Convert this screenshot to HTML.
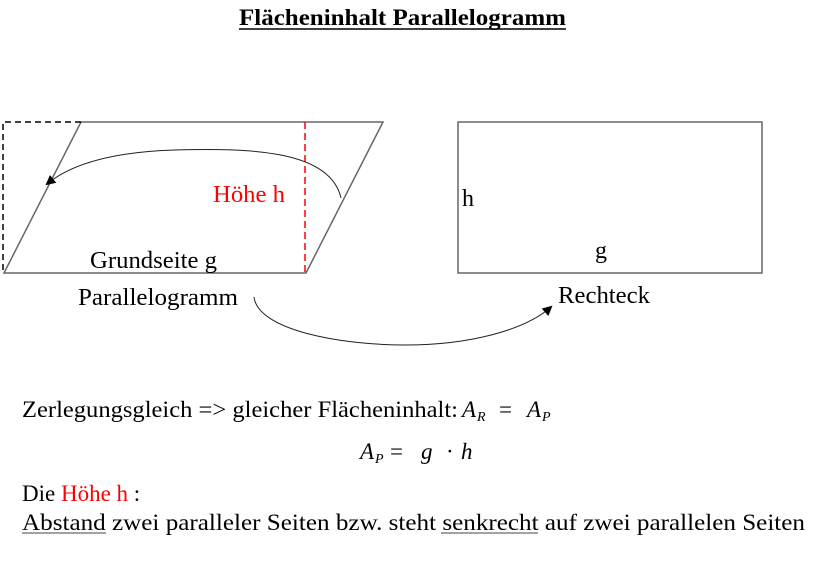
<!DOCTYPE html>
<html><head><meta charset="utf-8"><style>
html,body{margin:0;padding:0;background:#fff;}
svg{display:block;font-family:"Liberation Serif",serif;}
</style></head><body>
<svg width="814" height="562" viewBox="0 0 814 562" xmlns="http://www.w3.org/2000/svg">
<defs>
<marker id="ar" markerWidth="10" markerHeight="10" refX="8" refY="5" orient="auto" markerUnits="userSpaceOnUse">
<path d="M0,0 L10,5 L0,10 z" fill="#000"/>
</marker>
</defs>
<text x="239" y="25" font-size="23" font-weight="bold" textLength="327" lengthAdjust="spacingAndGlyphs">Flächeninhalt Parallelogramm</text>
<line x1="239" y1="29" x2="566" y2="29" stroke="#000" stroke-width="1.5"/>

<polygon points="4,273 81,122 383,122 306,273" fill="none" stroke="#666" stroke-width="1.5"/>
<polyline points="81,122 3,122 3,273" fill="none" stroke="#000" stroke-width="1.5" stroke-dasharray="6,4"/>
<line x1="305" y1="122" x2="305" y2="273" stroke="#f00" stroke-width="1.5" stroke-dasharray="7,4"/>
<path d="M341,198 C330,150 250,148 175,150 C110,152 70,165 47,184" fill="none" stroke="#222" stroke-width="1" marker-end="url(#ar)"/>
<text x="213" y="202" font-size="24" fill="#f00" textLength="72" lengthAdjust="spacingAndGlyphs">Höhe h</text>
<text x="90" y="268" font-size="24" textLength="127" lengthAdjust="spacingAndGlyphs">Grundseite g</text>
<text x="78" y="305" font-size="24" textLength="160" lengthAdjust="spacingAndGlyphs">Parallelogramm</text>

<rect x="458" y="122" width="304" height="151" fill="none" stroke="#666" stroke-width="1.5"/>
<text x="462" y="206" font-size="24">h</text>
<text x="595" y="258" font-size="24">g</text>
<text x="558" y="303" font-size="24" textLength="92" lengthAdjust="spacingAndGlyphs">Rechteck</text>
<path d="M254,297 C258,330 340,345 405,345 C470,345 525,330 551,307" fill="none" stroke="#222" stroke-width="1" marker-end="url(#ar)"/>

<text x="22" y="417" font-size="23" textLength="436" lengthAdjust="spacingAndGlyphs">Zerlegungsgleich =&gt; gleicher Flächeninhalt:</text>
<text x="462" y="417" font-size="23" font-style="italic">A</text>
<text x="477" y="421" font-size="14" font-style="italic">R</text>
<text x="499" y="417" font-size="23">=</text>
<text x="527" y="417" font-size="23" font-style="italic">A</text>
<text x="542" y="421" font-size="14" font-style="italic">P</text>

<text x="360" y="459" font-size="23" font-style="italic">A</text>
<text x="375" y="463" font-size="14" font-style="italic">P</text>
<text x="390" y="459" font-size="23">=</text>
<text x="421" y="459" font-size="23" font-style="italic">g</text>
<text x="446" y="459" font-size="23">·</text>
<text x="461" y="459" font-size="23" font-style="italic">h</text>

<text x="22" y="501" font-size="23">Die <tspan fill="#f00">Höhe h</tspan> :</text>
<text x="22" y="530" font-size="23" textLength="783" lengthAdjust="spacingAndGlyphs">Abstand zwei paralleler Seiten bzw. steht senkrecht auf zwei parallelen Seiten</text>
<line x1="22" y1="533" x2="106" y2="533" stroke="#444" stroke-width="1"/>
<line x1="441" y1="533" x2="538" y2="533" stroke="#444" stroke-width="1"/>
</svg>
</body></html>
